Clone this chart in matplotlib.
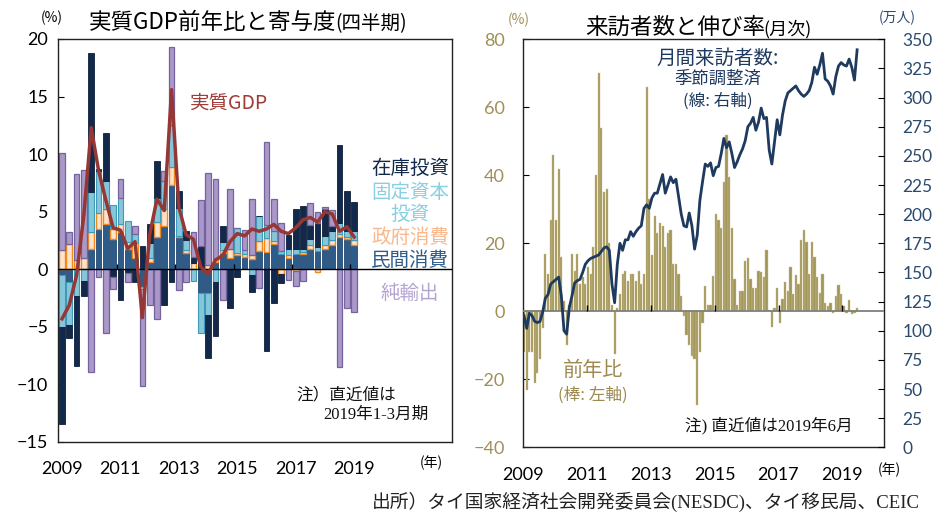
import numpy as np
import matplotlib
matplotlib.use('Agg')
import matplotlib.pyplot as plt

plt.rcParams['font.family'] = ['Noto Sans CJK JP', 'DejaVu Sans']

# ---- 左: 実質GDP前年比と寄与度 (2009Q1 - 2019Q1)
years_l = ['2009', '2011', '2013', '2015', '2017', '2019']
minkan = [-0.5, -1.1, 0.0, 0.0, 1.8, 3.5, 3.9, 2.6, 3.2, 1.8, 1.0, -1.5, 0.6, 2.8, 3.8, 7.3,
          2.8, 1.45, 0.0, -2.1, -2.1, 0.6, 1.45, 1.0, 1.2, 1.1, 0.9, 1.6, 1.5, 2.2, 1.3, 0.95,
          1.3, 1.3, 1.8, 1.55, 1.8, 2.1, 2.8, 2.6, 2.1]
seifu = [1.7, 2.2, 0.8, 1.0, 1.4, 1.4, 1.3, 0.9, 0.7, 0.6, 1.3, -0.2, 0.35, 1.3, 1.4, 1.6,
         0.1, 0.2, 0.55, 0.0, 0.4, 0.3, 0.2, 0.8, 0.25, 0.25, 0.3, 0.85, 1.25, 0.25, -0.4, 0.3,
         -0.15, 0.2, 0.3, -0.2, 0.3, 0.45, 0.3, 0.2, 0.45]
kotei = [-4.5, -3.7, -2.3, -1.0, 3.5, 3.6, 2.5, 2.1, 2.3, 1.8, 0.8, 0.0, 1.3, 2.1, 2.5, 3.6,
         2.4, 0.9, -1.0, -3.4, -1.9, -1.1, 0.7, 0.0, 2.1, 0.3, -0.5, 2.2, 1.1, 0.85, 0.3, 0.5,
         0.5, 0.3, 0.5, 0.4, 0.8, 0.8, 0.9, 0.5, 0.8]
zaiko = [-8.4, -1.2, -6.1, -1.3, 12.1, 0.2, 4.1, -0.7, -2.7, -0.3, -1.1, 2.0, 1.65, 3.2, -3.1, -1.1,
         1.5, 0.75, 0.5, 2.0, -3.7, -4.7, 1.4, -3.4, -0.7, 0.0, -1.5, 0.0, -7.1, -2.9, -0.8, 1.2,
         3.4, 3.7, 1.25, 2.1, 2.3, 0.4, 6.8, 3.5, 2.5]
junyushutsu = [8.4, 1.0, 7.5, 7.6, -8.9, -0.7, -5.5, -1.0, 1.6, -0.8, 0.7, -8.4, -3.1, -4.3, 0.8, 6.8,
               -1.8, -1.1, 2.2, 4.0, 8.0, 6.9, -2.7, 5.2, 0.0, 1.8, 4.9, -1.6, 7.2, 2.8, 2.4, -0.9,
               -1.3, -1.0, 1.9, 0.9, 0.2, 1.4, -8.5, -3.4, -3.7]
gdp = [-4.3, -3.1, -0.5, 4.8, 12.3, 8.6, 6.0, 3.6, 3.4, 1.8, 2.4, -4.2, 3.0, 6.1, 5.1, 15.6,
       5.4, 3.0, 2.6, 0.2, -0.4, 0.8, 1.2, 2.4, 3.1, 2.9, 3.5, 3.3, 3.5, 3.9, 3.3, 3.1,
       3.6, 4.3, 4.5, 4.1, 5.0, 4.8, 3.3, 3.7, 2.8]

# ---- 右: 来訪者数と伸び率 (2009年1月 - 2019年6月)
years_r = ['2009', '2011', '2013', '2015', '2017', '2019']
yoy = [-12, -23, -12, -12, -21, -18, -14, -5, 17, 11, 27, 46,
       27, 42, 16, 3, -10, 2, 17, 12, 17, 8, 10, 8,
       13, 11, 19, 40, 70, 54, 35, 36, 20, 2, -12.5, 1,
       5, 11, 12, 9, 11, 11, 9, 12, 8, 11, 66, 33,
       16.5, 28, 23, 26, 25, 19, 23, 24, 14, 14, 11, 4.5,
       -1.5, -7, -10, -13, -14, -27.5, -12, -3.5, 7.5, 2, 2, 10.5,
       28.5, 27, 24.6, 38, 52, 39.5, 24.4, 9.6, 2, 6, 6, 14.8,
       15.8, 9.4, 7, 7, 12, 11.5, 10, 18, 0.5, -4.5, 1, 7,
       -3.5, 3.5, 8.7, 6, 13, 5, 10.7, 8, 21, 24, 20.5, 11,
       20.5, 16, 10.2, 5.5, 11, 2.5, 1.6, 2.4, -0.5, 4.5, 7.6, 5,
       1.6, -0.5, 3.4, -0.9, -0.4, 1.0]
visitors = [113, 102, 115, 113, 108, 107, 108, 116, 128, 131, 140, 142,
            144, 146, 130, 100, 97, 120, 130, 141, 143, 144, 150, 157,
            160, 162, 163, 164, 165, 168, 171, 172, 169, 140, 124, 157,
            175, 169, 178, 178, 185, 181, 185, 188, 190, 205, 208, 205,
            214, 218, 218, 226, 234, 218, 225, 232, 227, 230, 215, 200,
            190, 189, 201, 190, 170, 182, 212, 228, 243, 241, 244, 233,
            240, 241, 252, 265, 257, 262, 252, 240, 245, 251, 256, 263,
            275, 278, 283, 272, 279, 291, 282, 283, 255, 243, 262, 281,
            268, 285, 297, 304, 306, 308, 310, 306, 303, 301, 303, 306,
            313, 326, 320, 328, 338, 316, 314, 310, 303, 318, 327, 330,
            328, 327, 333, 326, 315, 341]

W, H = 936, 513
fig = plt.figure(figsize=(W / 100, H / 100), dpi=100)


def px(x, y):
    return x / W, 1 - y / H


tick_font = ['Lato', 'Noto Sans CJK JP']
serif_jp = ['Liberation Serif', 'Noto Sans CJK JP']

# ================= 左グラフ =================
ax = fig.add_axes([58 / W, (H - 442) / H, 394 / W, 403 / H])
xq = np.arange(len(gdp))
parts = [
    (minkan, '#2E5C8A', '#24496F', 0.6),
    (seifu, '#FDE3CC', '#F0891F', 1.0),
    (kotei, '#86C6D9', '#3E9AB8', 0.8),
    (zaiko, '#13294B', '#0E1E38', 0.6),
    (junyushutsu, '#A998C8', '#75639E', 0.9),
]
pos_bot = np.zeros(len(xq))
neg_bot = np.zeros(len(xq))
for vals, fc, ec, lw in parts:
    v = np.array(vals, dtype=float)
    bot = np.where(v >= 0, pos_bot, neg_bot)
    ax.bar(xq, v, width=0.78, bottom=bot, color=fc, edgecolor=ec, linewidth=lw, zorder=2)
    pos_bot += np.clip(v, 0, None)
    neg_bot += np.clip(v, None, 0)

ax.axhline(0, color='black', lw=1, zorder=3)
ax.vlines([7.5, 15.5, 23.5, 31.5, 39.5], 0, 0.5, color='black', lw=1, zorder=3)
ax.plot(xq, gdp, color='#953735', lw=2.5, zorder=4, solid_joinstyle='round')

ax.set_xlim(-0.55, 53.4)
ax.set_ylim(-15, 20)
ax.set_yticks(range(-15, 21, 5))
ax.set_xticks(range(0, 41, 8))
ax.set_xticklabels(years_l)
ax.tick_params(axis='y', direction='in', length=4, width=0.8, pad=7, labelsize=13)
ax.tick_params(axis='x', length=0, pad=14, labelsize=13)
for lab in ax.get_xticklabels() + ax.get_yticklabels():
    lab.set_fontfamily(tick_font)
for s in ax.spines.values():
    s.set_linewidth(1.0)
    s.set_color('#222222')

# 凡例テキスト
legend_items = [
    ('在庫投資', 168, '#13294B'),
    ('固定資本', 193, '#8ACFE2'),
    ('投資', 214, '#8ACFE2'),
    ('政府消費', 237, '#F8B88A'),
    ('民間消費', 260, '#2E5C8A'),
    ('純輸出', 293, '#B3A3D1'),
]
for txt, y, c in legend_items:
    fig.text(*px(410, y), txt, ha='center', va='center', fontsize=14, color=c)
fig.text(*px(190, 103), '実質GDP', ha='left', va='center', fontsize=14, color='#A03B37')
fig.text(*px(296, 395), '注）直近値は', ha='left', va='center', fontsize=12, color='#111111')
fig.text(*px(323, 415), '2019年1-3月期', ha='left', va='center', fontsize=12,
         color='#111111', family=serif_jp)

# タイトル
fig.text(*px(89, 29), '実質GDP前年比と寄与度', ha='left', va='baseline', fontsize=16.2)
fig.text(*px(335, 29), '(四半期)', ha='left', va='baseline', fontsize=14)
fig.text(*px(41, 18), '(%)', ha='left', va='center', fontsize=10)
fig.text(*px(420, 463), '(年)', ha='left', va='center', fontsize=10)

# ================= 右グラフ =================
axr = fig.add_axes([522.7 / W, (H - 447.3) / H, 361.6 / W, 408 / H])
xm = np.arange(len(yoy)) + 0.5
axr.bar(xm, yoy, width=0.82, color='#A39659', edgecolor='#CBC295', linewidth=0.3, zorder=2)
axr.axhline(0, color='#7F7F7F', lw=1.3, zorder=3)
axr.vlines([24, 48, 72, 96, 120], 0, 1.8, color='black', lw=1, zorder=3)
axr.set_xlim(0, 135.7)
axr.set_ylim(-40, 80)
axr.set_yticks(range(-40, 81, 20))
axr.set_xticks(range(0, 121, 24))
axr.set_xticklabels(years_r)
axr.tick_params(axis='y', direction='in', length=4, width=0.8, pad=13, labelsize=13,
                labelcolor='#A08F56')
axr.tick_params(axis='x', length=0, pad=14, labelsize=13)
for lab in axr.get_xticklabels() + axr.get_yticklabels():
    lab.set_fontfamily(tick_font)
for s in axr.spines.values():
    s.set_linewidth(1.0)
    s.set_color('#222222')

ax2 = axr.twinx()
ax2.plot(xm, visitors, color='#1F3A5F', lw=2, zorder=4)
ax2.set_ylim(0, 350)
ax2.set_yticks(range(0, 351, 25))
ax2.tick_params(axis='y', direction='in', length=4, width=0.8, pad=13, labelsize=12.5,
                labelcolor='#2B4A6F')
for lab in ax2.get_yticklabels():
    lab.set_fontfamily(tick_font)
for s in ax2.spines.values():
    s.set_visible(False)

fig.text(*px(718, 58), '月間来訪者数:', ha='center', va='center', fontsize=14, color='#1F3A60')
fig.text(*px(718, 79), '季節調整済', ha='center', va='center', fontsize=12.5, color='#1F3A60')
fig.text(*px(718, 101), '(線: 右軸)', ha='center', va='center', fontsize=12, color='#1F3A60')
fig.text(*px(593, 370), '前年比', ha='center', va='center', fontsize=14.5, color='#9C8A50')
fig.text(*px(593, 395), '(棒: 左軸)', ha='center', va='center', fontsize=12, color='#9C8A50')
fig.text(*px(685, 426), '注) 直近値は2019年6月', ha='left', va='center', fontsize=12,
         color='#111111', family=serif_jp)

fig.text(*px(585, 34), '来訪者数と伸び率', ha='left', va='baseline', fontsize=16.2)
fig.text(*px(763, 34), '(月次)', ha='left', va='baseline', fontsize=13)
fig.text(*px(508, 20), '(%)', ha='left', va='center', fontsize=10, color='#A08F56')
fig.text(*px(879, 18), '(万人)', ha='left', va='center', fontsize=10, color='#2B4A6F')
fig.text(*px(878, 470), '(年)', ha='left', va='center', fontsize=10)

fig.text(*px(372, 502), '出所）タイ国家経済社会開発委員会(NESDC)、タイ移民局、CEIC',
         ha='left', va='center', fontsize=13.5, color='#222222', family=serif_jp)

fig.savefig('out.png', dpi=100)
